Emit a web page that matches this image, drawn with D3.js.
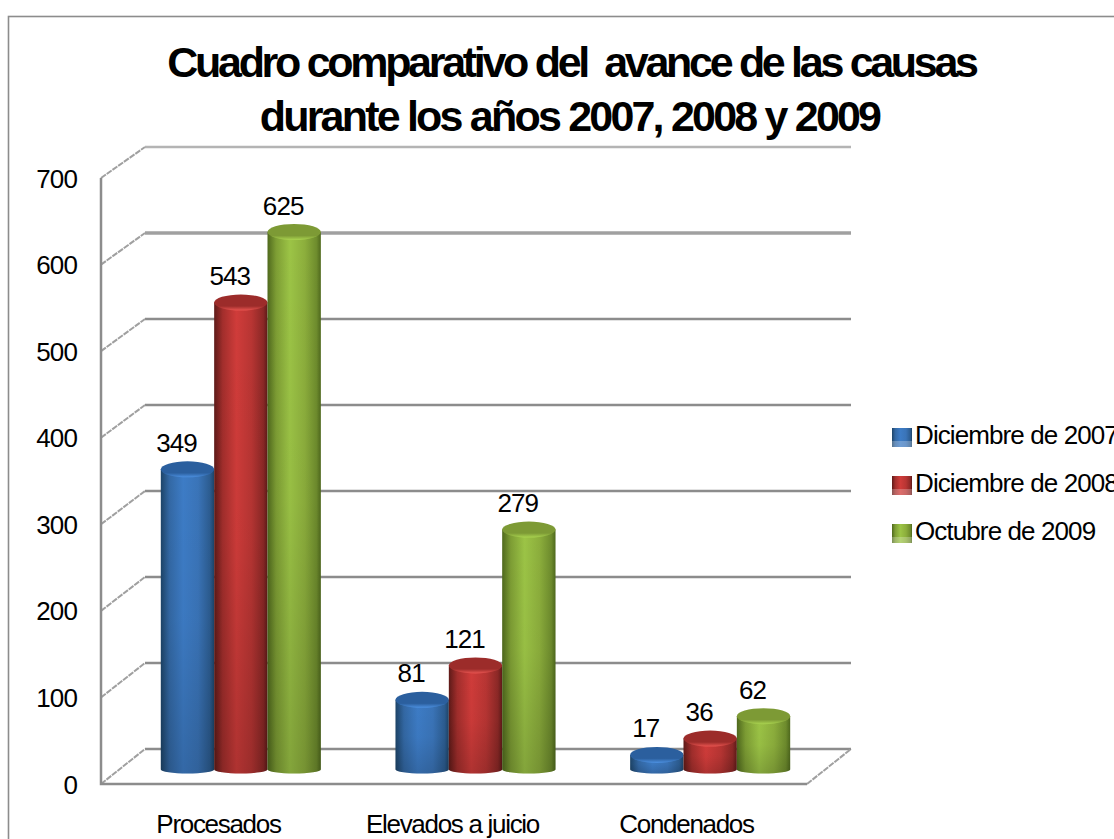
<!DOCTYPE html>
<html><head><meta charset="utf-8">
<script src="https://cdn.jsdelivr.net/npm/d3@7/dist/d3.min.js"></script>
<style>html,body{margin:0;padding:0;background:#fff;overflow:hidden}svg{display:block}text{font-family:"Liberation Sans",Arial,sans-serif;fill:#000}</style>
</head><body><svg id="c" width="1114" height="839"></svg>
<script>
const titleLines = ["Cuadro comparativo del  avance de las causas","durante los años 2007, 2008 y 2009"];
const categories = ["Procesados","Elevados a juicio","Condenados"];
const seriesNames = ["Diciembre de 2007","Diciembre de 2008","Octubre de 2009"];
const dic2007 = [349,81,17];
const dic2008 = [543,121,36];
const oct2009 = [625,279,62];
const seriesValues = [dic2007,dic2008,oct2009];
const yTicks = [0,100,200,300,400,500,600,700];
const palettes = [
 {edge:"#1d4468",mid:"#3a74b8",hi:"#3d7cc6",top:"#2b5f9e",topHi:"#4c90e0"},
 {edge:"#5e1a18",mid:"#b83533",hi:"#d03c3a",top:"#9c2c2a",topHi:"#e85450"},
 {edge:"#4f691d",mid:"#8cae3c",hi:"#9cc446",top:"#7d9a35",topHi:"#aad450"}];

const svg=d3.select("#c");
const defs=svg.append("defs");
palettes.forEach((p,i)=>{
  const g=defs.append("linearGradient").attr("id","bar"+i);
  [[0,p.edge],[.16,d3.interpolateRgb(p.edge,p.mid)(.75)],[.42,p.hi],[.7,p.mid],[.92,d3.interpolateRgb(p.edge,p.mid)(.5)],[1,p.edge]]
    .forEach(s=>g.append("stop").attr("offset",s[0]).attr("stop-color",s[1]));
  const v=defs.append("linearGradient").attr("id","shade"+i).attr("x1",0).attr("x2",0).attr("y1",0).attr("y2",1);
  v.append("stop").attr("offset",0).attr("stop-color","#000").attr("stop-opacity",0);
  v.append("stop").attr("offset",.5).attr("stop-color","#000").attr("stop-opacity",.03);
  v.append("stop").attr("offset",1).attr("stop-color","#000").attr("stop-opacity",.16);
  const t=defs.append("linearGradient").attr("id","top"+i).attr("x1",0).attr("x2",0).attr("y1",0).attr("y2",1);
  t.append("stop").attr("offset",0).attr("stop-color",p.top);
  t.append("stop").attr("offset",.72).attr("stop-color",p.top);
  t.append("stop").attr("offset",1).attr("stop-color",p.topHi);
});

// frame
svg.append("rect").attr("x",8.5).attr("y",16.5).attr("width",1200).attr("height",900).attr("fill","#fff").attr("stroke","#8c8c8c").attr("stroke-width",1.6);

// title
const titleSpacing=[-3.3,-2.8], titleX=[571.5,569.5];
svg.selectAll("text.title").data(titleLines).join("text").attr("class","title")
 .attr("x",(d,i)=>titleX[i]).attr("y",(d,i)=>77+i*54).attr("text-anchor","middle")
 .attr("font-size",43).attr("font-weight","bold").attr("letter-spacing",(d,i)=>titleSpacing[i]).style("white-space","pre").text(d=>d);

// scales
const yFront=d3.scaleLinear().domain([0,700]).range([784,178]);
const yBack=d3.scaleLinear().domain([0,700]).range([749,147]);
const yBar=d3.scaleLinear().domain([0,700]).range([769.5,769.5-602]);
const xFront=d3.scaleLinear().domain([0,1]).range([101,807]);
const xBack=d3.scaleLinear().domain([0,1]).range([145,851]);
const x0=d3.scaleBand().domain(categories).range([123.5,827.5]).paddingInner(.318).paddingOuter(.159);
const x1=d3.scaleBand().domain(d3.range(3)).range([0,x0.bandwidth()]);
const xLabel=d3.scalePoint().domain(categories).range([218.5,686.5]);

// gridlines on the back wall
yTicks.forEach(t=>{
  svg.append("line").attr("x1",xBack(0)).attr("x2",xBack(1)).attr("y1",yBack(t)).attr("y2",yBack(t))
    .attr("stroke",t===600?"#a0a0a0":t===700?"#b4b4b4":"#8c8c8c").attr("stroke-width",t===600?3.5:2.5);
  svg.append("line").attr("x1",xFront(0)).attr("x2",xBack(0)).attr("y1",yFront(t)).attr("y2",yBack(t))
    .attr("stroke","#a0a0a0").attr("stroke-width",2).attr("stroke-dasharray","6 1");
});
// floor right edge
svg.append("line").attr("x1",xFront(1)).attr("x2",xBack(1)).attr("y1",yFront(0)).attr("y2",yBack(0))
  .attr("stroke","#a0a0a0").attr("stroke-width",2).attr("stroke-dasharray","6 1");
// front axes
svg.append("path").attr("d",d3.line()([[xFront(0),yFront(700)],[xFront(0),yFront(0)],[xFront(1),yFront(0)]]))
  .attr("fill","none").attr("stroke","#8c8c8c").attr("stroke-width",2.5);

// y tick labels
svg.selectAll("text.yt").data(yTicks).join("text").attr("class","yt")
  .attr("x",77).attr("y",d=>yFront(d)+9.5).attr("text-anchor","end").attr("font-size",26).attr("letter-spacing",-.9).text(d=>d);

// cylinders
const ry=8, ryBase=4;
seriesValues.forEach((vals,s)=>{
  const gs=svg.append("g");
  vals.forEach((v,c)=>{
    const bx=x0(categories[c])+x1(s), w=x1.bandwidth(), cx=bx+w/2, yt=yBar(v), yb=yBar(0);
    const rx=w/2, d=`M${bx},${yt}L${bx},${yb}A${rx},${ryBase} 0 0 0 ${bx+w},${yb}L${bx+w},${yt}Z`;
    gs.append("path").attr("d",d).attr("fill",`url(#bar${s})`);
    gs.append("path").attr("d",d).attr("fill",`url(#shade${s})`);
    gs.append("ellipse").attr("cx",cx).attr("cy",yt).attr("rx",rx).attr("ry",ry).attr("fill",`url(#top${s})`);
    gs.append("text").attr("x",cx-11).attr("y",yt-17.5).attr("text-anchor","middle").attr("font-size",26).attr("letter-spacing",-.9).text(v);
  });
});

// category labels
svg.selectAll("text.cat").data(categories).join("text").attr("class","cat")
  .attr("x",d=>xLabel(d)).attr("y",832.5).attr("text-anchor","middle").attr("font-size",26).attr("letter-spacing",-1.3).text(d=>d);

// legend
const legY=d3.scalePoint().domain(seriesNames).range([437,533]);
seriesNames.forEach((n,i)=>{
  const y=legY(n);
  svg.append("rect").attr("x",892).attr("y",y-9).attr("width",20).attr("height",19).attr("fill",`url(#bar${i})`);
  svg.append("rect").attr("x",892).attr("y",y+4).attr("width",20).attr("height",6).attr("fill","#fff").attr("opacity",.25);
  svg.append("text").attr("x",915).attr("y",y+7).attr("font-size",26).attr("letter-spacing",-.9).text(n);
});
</script></body></html>
